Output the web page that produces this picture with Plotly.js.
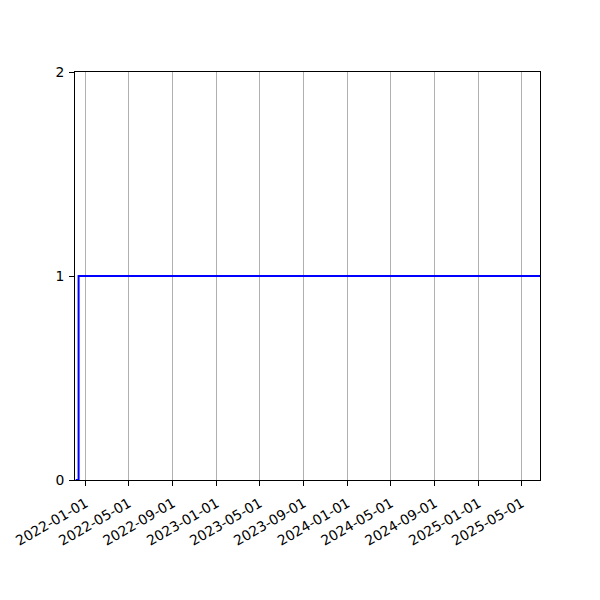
<!DOCTYPE html>
<html>
<head>
<meta charset="utf-8">
<script src="https://cdn.plot.ly/plotly-3.0.1.min.js"></script>
<style>
  html, body { margin: 0; padding: 0; background: #fff; }
  #chart { width: 600px; height: 600px; }
</style>
</head>
<body>
<div id="chart"></div>
<script>
// step series
var dates = ['2021-12-04', '2021-12-12', '2025-06-25'];
var values = [0, 1, 1];

// tick labels on x (every 4 months)
var tickDates = ['2022-01-01', '2022-05-01', '2022-09-01', '2023-01-01', '2023-05-01',
                 '2023-09-01', '2024-01-01', '2024-05-01', '2024-09-01', '2025-01-01', '2025-05-01'];
var yTicks = [0, 1, 2];

var trace = {
  x: dates,
  y: values,
  type: 'scatter',
  mode: 'lines',
  line: { shape: 'hv', color: '#0000ff', width: 2 },
  hoverinfo: 'skip'
};

var layout = {
  width: 600,
  height: 600,
  margin: { l: 75, r: 60, t: 72, b: 120 },
  paper_bgcolor: '#fff',
  plot_bgcolor: '#fff',
  showlegend: false,
  font: { family: 'DejaVu Sans', size: 13.9, color: '#000' },
  xaxis: {
    type: 'date',
    range: ['2021-12-02', '2025-06-21'],
    tickvals: tickDates,
    ticktext: tickDates,
    tickangle: -30,
    ticks: 'outside',
    ticklen: 5,
    tickwidth: 1,
    tickcolor: '#000',
    ticklabelstandoff: 4,
    showgrid: true,
    gridcolor: '#b0b0b0',
    gridwidth: 1,
    showline: true,
    linecolor: '#000',
    linewidth: 1,
    mirror: true,
    zeroline: false
  },
  yaxis: {
    range: [0, 2],
    tickvals: yTicks,
    ticktext: yTicks.map(String),
    ticks: 'outside',
    ticklen: 5,
    tickwidth: 1,
    tickcolor: '#000',
    ticklabelstandoff: 2,
    showgrid: false,
    showline: true,
    linecolor: '#000',
    linewidth: 1,
    mirror: true,
    zeroline: false
  }
};

Plotly.newPlot('chart', [trace], layout, { displayModeBar: false, staticPlot: true });
</script>
</body>
</html>
